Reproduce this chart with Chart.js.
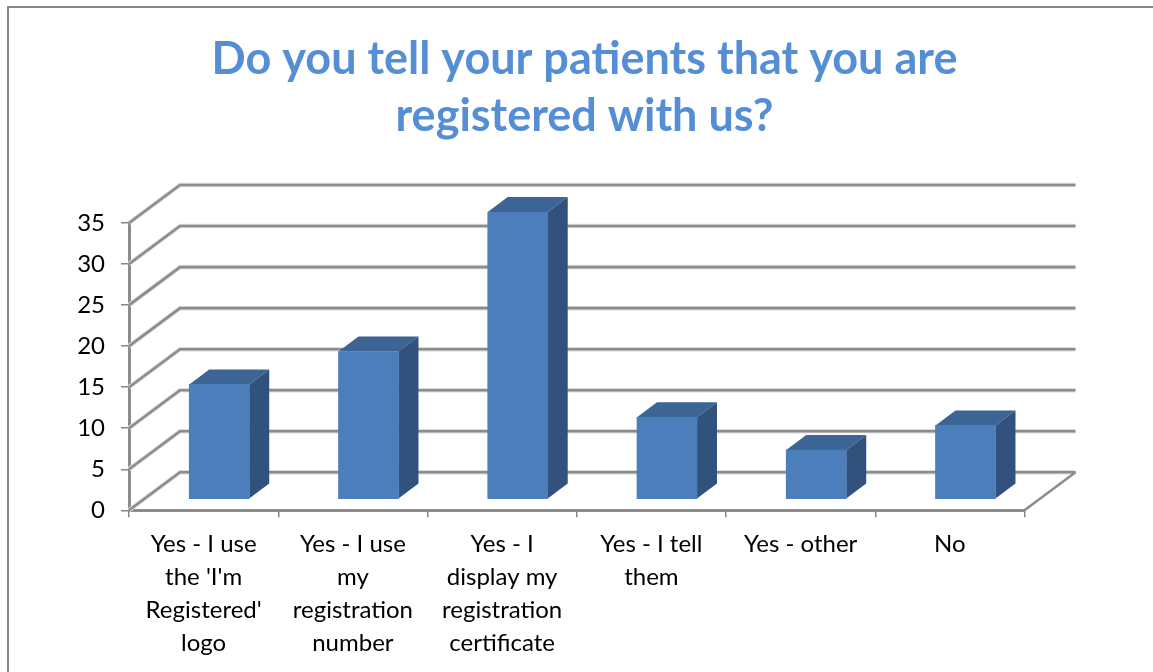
<!DOCTYPE html>
<html>
<head>
<meta charset="utf-8">
<style>
  html, body { margin: 0; padding: 0; background: #fff; overflow: hidden; }
  #wrap { width: 1153px; height: 672px; }
</style>
<script src="https://cdn.jsdelivr.net/npm/chart.js@4"></script>
</head>
<body>
<div id="wrap"><canvas id="myChart" width="1153" height="672"></canvas></div>
<script>
const titleLines = ['Do you tell your patients that you are', 'registered with us?'];
const categories = [
  ['Yes - I use', "the 'I'm", 'Registered\'', 'logo'],
  ['Yes - I use', 'my', 'registration', 'number'],
  ['Yes - I', 'display my', 'registration', 'certificate'],
  ['Yes - I tell', 'them'],
  ['Yes - other'],
  ['No'],
];
const responses = [14, 18, 35, 10, 6, 9];

const AXIS_GREY = '#868686';
// how far the back wall sits from the front of the box
const wallX = 51;
const wallY = -38;
// bars stand part way into the floor
const barShiftX = 15.6;
const barShiftY = -11;
// depth of a bar
const depthX = 20;
const depthY = -15;

function polygon(ctx, pts, fill) {
  ctx.fillStyle = fill;
  ctx.beginPath();
  pts.forEach((p, i) => (i ? ctx.lineTo(p[0], p[1]) : ctx.moveTo(p[0], p[1])));
  ctx.closePath();
  ctx.fill();
}

function wallLine(ctx, y, left, right) {
  const path = () => {
    ctx.beginPath();
    ctx.moveTo(left, y);
    ctx.lineTo(left + wallX, y + wallY);
    ctx.lineTo(right + wallX, y + wallY);
  };
  ctx.strokeStyle = '#dedede';
  ctx.lineWidth = 4.5;
  path();
  ctx.stroke();
  ctx.strokeStyle = '#8c8c8c';
  ctx.lineWidth = 2.6;
  path();
  ctx.stroke();
}

const box3d = {
  id: 'box3d',
  beforeDatasetsDraw(chart) {
    const { ctx, chartArea, scales } = chart;
    ctx.save();
    scales.y.ticks.forEach((t) => {
      wallLine(ctx, scales.y.getPixelForValue(t.value), chartArea.left, chartArea.right);
    });
    // right edge of the floor
    ctx.strokeStyle = '#8c8c8c';
    ctx.lineWidth = 2.6;
    ctx.beginPath();
    ctx.moveTo(chartArea.right, chartArea.bottom);
    ctx.lineTo(chartArea.right + wallX, chartArea.bottom + wallY);
    ctx.stroke();
    ctx.restore();

    // the bars themselves get drawn by chart.js inside this translate
    ctx.save();
    ctx.translate(barShiftX, barShiftY);
    chart.getDatasetMeta(0).data.forEach((bar) => {
      const l = bar.x - bar.width / 2;
      const r = bar.x + bar.width / 2;
      polygon(ctx, [[l, bar.y], [l + depthX, bar.y + depthY], [r + depthX, bar.y + depthY], [r, bar.y]], '#3c6494');
      polygon(ctx, [[r, bar.y], [r + depthX, bar.y + depthY], [r + depthX, bar.base + depthY], [r, bar.base]], '#30527c');
    });
  },
  afterDatasetsDraw(chart) {
    chart.ctx.restore();
  },
  afterDraw(chart) {
    // chart frame, only top and left fall inside the shot
    const { ctx, width, height } = chart;
    ctx.save();
    ctx.strokeStyle = AXIS_GREY;
    ctx.lineWidth = 2;
    ctx.beginPath();
    ctx.moveTo(8, height);
    ctx.lineTo(8, 7);
    ctx.lineTo(width, 7);
    ctx.stroke();
    ctx.restore();
  },
};

const chart = new Chart(document.getElementById('myChart'), {
  type: 'bar',
  data: {
    labels: categories,
    datasets: [
      {
        data: responses,
        backgroundColor: '#4c7ebb',
        borderWidth: 0,
        barThickness: 60,
      },
    ],
  },
  plugins: [box3d],
  options: {
    responsive: false,
    animation: false,
    layout: { padding: { left: 16, right: 0, top: 0, bottom: 0 } },
    plugins: {
      legend: { display: false },
      tooltip: { enabled: false },
      title: {
        display: true,
        text: titleLines,
        color: '#558ed5',
        font: { family: 'Lato', size: 45, weight: 'bold', lineHeight: 1.267 },
        padding: { top: 31, bottom: 78 },
      },
    },
    scales: {
      x: {
        grid: { offset: true, drawOnChartArea: false, tickLength: 7, color: AXIS_GREY, lineWidth: 1.5 },
        border: { color: '#8c8c8c', width: 3 },
        ticks: {
          color: '#000',
          font: { family: 'Lato', size: 24, lineHeight: 1.375 },
          padding: 10,
          maxRotation: 0,
          autoSkip: false,
        },
        afterFit(scale) { scale.height = 161.7; },
      },
      y: {
        min: 0,
        max: 35,
        grid: { drawOnChartArea: false, tickLength: 8, color: AXIS_GREY, lineWidth: 1.5 },
        border: { color: '#8c8c8c', width: 3 },
        ticks: {
          stepSize: 5,
          color: '#000',
          font: { family: 'Lato', size: 24 },
          padding: 16,
        },
        afterFit(scale) { scale.width = 113; },
      },
      // spacer so the plot stops short of the right edge
      spacer: {
        axis: 'y',
        position: 'right',
        grid: { display: false },
        border: { display: false },
        ticks: { display: false },
        afterFit(scale) { scale.width = 128.5; },
      },
    },
  },
});
</script>
</body>
</html>
